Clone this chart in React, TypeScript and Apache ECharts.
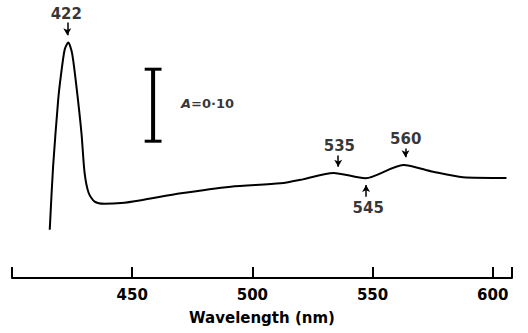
import React, { useEffect, useRef } from "react";
import * as echarts from "echarts";

// Absorption spectrum (wavelength nm, absorbance)
const wavelengths = [415.7, 417.1, 419.2, 420.3, 421.9, 423.4, 425.0, 426.8, 428.9, 430.2, 431.9, 434.4, 438.4, 445.4, 453.7, 470.3, 491.0, 511.7, 521.0, 533.7, 547.0, 562.8, 575.2, 587.6, 605.7];
const absorbance = [0.067, 0.155, 0.247, 0.28, 0.317, 0.327, 0.312, 0.266, 0.201, 0.146, 0.118, 0.106, 0.103, 0.104, 0.108, 0.1176, 0.1268, 0.1315, 0.137, 0.146, 0.1385, 0.157, 0.1476, 0.14, 0.139];

// Tick labels of the wavelength axis
const xTicks = [450, 500, 550, 600];
const tickStep = 50;
const axisMin = 400;
const axisMax = 608;

// Peak annotations: label text, label position, arrow start/end (data units)
const peakLabels = ["422", "535", "560", "545"];
const peakLabelX = [422.6, 536.2, 563.8, 548.2];
const peakLabelY = [0.367, 0.1833, 0.193, 0.0972];
const arrowX = [423.0, 535.7, 563.7, 547.3];
const arrowFromY = [0.355, 0.17, 0.18, 0.113];
const arrowToY = [0.337, 0.1546, 0.1676, 0.129];

// Scale bar: A = 0.10
const scaleBarX = 458.7;
const scaleBarBottom = 0.19;
const scaleBarTop = 0.29;
const scaleBarCapHalf = 3.5;
const scaleLabel = "0·10";
const scaleLabelPos = [470.3, 0.243];

const FONT = "DejaVu Sans";

export default function App() {
  const ref = useRef<HTMLDivElement>(null);
  useEffect(() => {
    if (!ref.current) return;
    const chart = echarts.init(ref.current, null, { renderer: "svg" });
    const spectrum = wavelengths.map((w, i) => [w, absorbance[i]]);
    const labelData = peakLabels.map((t, i) => ({ name: t, value: [peakLabelX[i], peakLabelY[i]] }));
    const arrows = arrowX.map((x, i) => [
      { coord: [x, arrowFromY[i]] },
      { coord: [x, arrowToY[i]] },
    ]);
    chart.setOption({
      animation: false,
      backgroundColor: "#ffffff",
      grid: { left: 12, right: 16, top: 0.8, bottom: 55, containLabel: false },
      xAxis: {
        type: "value",
        min: axisMin,
        max: axisMax,
        interval: tickStep,
        name: "Wavelength (nm)",
        nameLocation: "middle",
        nameGap: 32,
        nameTextStyle: { fontFamily: FONT, fontWeight: "bold", fontSize: 15, color: "#000" },
        axisLine: { show: true, onZero: false, lineStyle: { color: "#000", width: 2 } },
        axisTick: { show: true, inside: true, length: 11, lineStyle: { color: "#000", width: 2 } },
        axisLabel: { show: true, customValues: xTicks, margin: 9, fontFamily: FONT, fontWeight: "bold", fontSize: 15, color: "#000" },
        splitLine: { show: false },
      },
      yAxis: { type: "value", min: 0, max: 0.385, show: false, splitLine: { show: false } },
      series: [
        {
          type: "line",
          data: spectrum,
          smooth: 0.25,
          symbol: "none",
          clip: false,
          lineStyle: { color: "#000", width: 2 },
        },
        {
          type: "line",
          data: [[scaleBarX, scaleBarBottom], [scaleBarX, scaleBarTop]],
          symbol: "none",
          clip: false,
          lineStyle: { color: "#000", width: 4 },
          markLine: {
            silent: true,
            symbol: ["none", "arrow"],
            symbolSize: [6, 7],
            label: { show: false },
            lineStyle: { color: "#000", width: 1.5, type: "solid" },
            data: arrows,
          },
        },
        {
          type: "line",
          data: [[scaleBarX - scaleBarCapHalf, scaleBarTop], [scaleBarX + scaleBarCapHalf, scaleBarTop]],
          symbol: "none",
          clip: false,
          lineStyle: { color: "#000", width: 3 },
        },
        {
          type: "line",
          data: [[scaleBarX - scaleBarCapHalf, scaleBarBottom], [scaleBarX + scaleBarCapHalf, scaleBarBottom]],
          symbol: "none",
          clip: false,
          lineStyle: { color: "#000", width: 3 },
        },
        {
          type: "scatter",
          data: labelData,
          symbolSize: 0,
          clip: false,
          label: {
            show: true,
            position: "inside",
            formatter: (p: any) => p.name,
            fontFamily: FONT,
            fontWeight: "bold",
            fontSize: 15,
            color: "#000",
          },
        },
        {
          type: "scatter",
          data: [{ name: scaleLabel, value: scaleLabelPos }],
          symbolSize: 0,
          clip: false,
          label: {
            show: true,
            position: "right",
            distance: 0,
            formatter: () => "{i|A}{n|=" + scaleLabel + "}",
            rich: {
              i: { fontFamily: FONT, fontStyle: "italic", fontWeight: "bold", fontSize: 13, color: "#000" },
              n: { fontFamily: FONT, fontWeight: "bold", fontSize: 13, color: "#000" },
            },
          },
        },
      ],
    });
    return () => chart.dispose();
  }, []);
  return <div ref={ref} style={{ position: "absolute", left: 0, top: 0, width: 528, height: 333 }} />;
}
